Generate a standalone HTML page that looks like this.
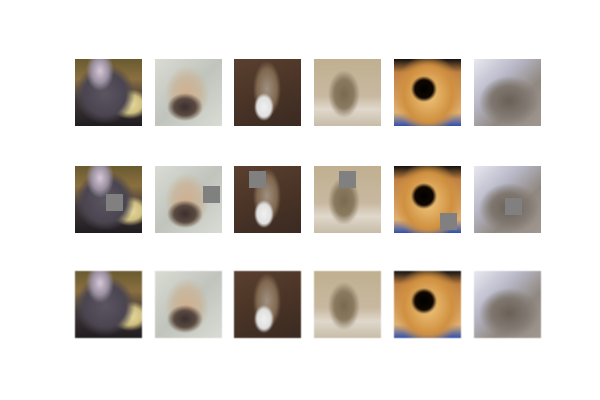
<!DOCTYPE html>
<html><head><meta charset="utf-8"><style>
body{margin:0;background:#fff;width:600px;height:400px;position:relative;overflow:hidden;font-family:"Liberation Sans",sans-serif}
.im{position:absolute;width:67px;height:67px;overflow:hidden}
.sq{position:absolute;width:17px;height:17px;background:#808080}
.a{background:radial-gradient(ellipse 14px 20px at 25px 12px,#d8c8d8 0,#9a90a0 60%,transparent 100%),radial-gradient(ellipse 30px 30px at 30px 35px,#5a5560 0,#4a4550 70%,transparent 100%),radial-gradient(ellipse 20px 15px at 55px 45px,#e8dca0 0,#d0c080 60%,transparent 100%),linear-gradient(180deg,#6a5a30 0,#8a7040 30%,#40383a 60%,#201c20 100%)}
.b{background:radial-gradient(ellipse 18px 14px at 30px 48px,#3a3030 0,#5a4a40 60%,transparent 100%),radial-gradient(ellipse 22px 28px at 32px 35px,#d0b090 0,#c8b8a0 60%,transparent 100%),linear-gradient(135deg,#dadcd4 0,#c0c4bc 50%,#d8dcd4 100%)}
.c{background:radial-gradient(ellipse 10px 14px at 30px 48px,#f0f0f0 0,#e0e0e0 70%,transparent 100%),radial-gradient(ellipse 14px 28px at 33px 30px,#a09080 0,#806850 70%,transparent 100%),linear-gradient(160deg,#5a4030 0,#4a3426 50%,#3a2a22 100%)}
.d{background:radial-gradient(ellipse 16px 24px at 30px 35px,#7a6a50 0,#8a7a60 60%,transparent 100%),linear-gradient(180deg,#c0b090 0,#c8b8a0 55%,#e0d8cc 75%,#c8bca8 100%)}
.e{background:radial-gradient(circle 13px at 30px 30px,#000 0,#100800 70%,transparent 100%),radial-gradient(ellipse 34px 40px at 34px 35px,#f0c880 0,#d09040 70%,transparent 100%),linear-gradient(180deg,#101010 0,#c08040 20%,#e0b070 80%,#3050b0 100%)}
.f{background:radial-gradient(ellipse 30px 25px at 35px 42px,#6a6058 0,#807870 60%,transparent 100%),linear-gradient(135deg,#e8e8f0 0,#b8b8c8 35%,#908880 65%,#a09890 100%)}
.r3{filter:blur(0.6px)}
</style></head><body>
<div id="g"></div>
<script>
const cols=['a','b','c','d','e','f'];
const xs=[75,155,234,314,394,474];
const ys=[59,166,271];
const sqx=[31,48,15,25,46,31];
const sqy=[28,20,5,5,47,32];
const g=document.getElementById('g');
ys.forEach((y,r)=>{cols.forEach((c,i)=>{
 const d=document.createElement('div');
 d.className='im '+c+(r==2?' r3':'');
 
 
 d.style.left=xs[i]+'px';d.style.top=y+'px';
 if(r==1){const s=document.createElement('div');s.className='sq';
  
  
  s.style.left=sqx[i]+'px';s.style.top=sqy[i]+'px';d.appendChild(s);}
 g.appendChild(d);});});
</script>
</body></html>
